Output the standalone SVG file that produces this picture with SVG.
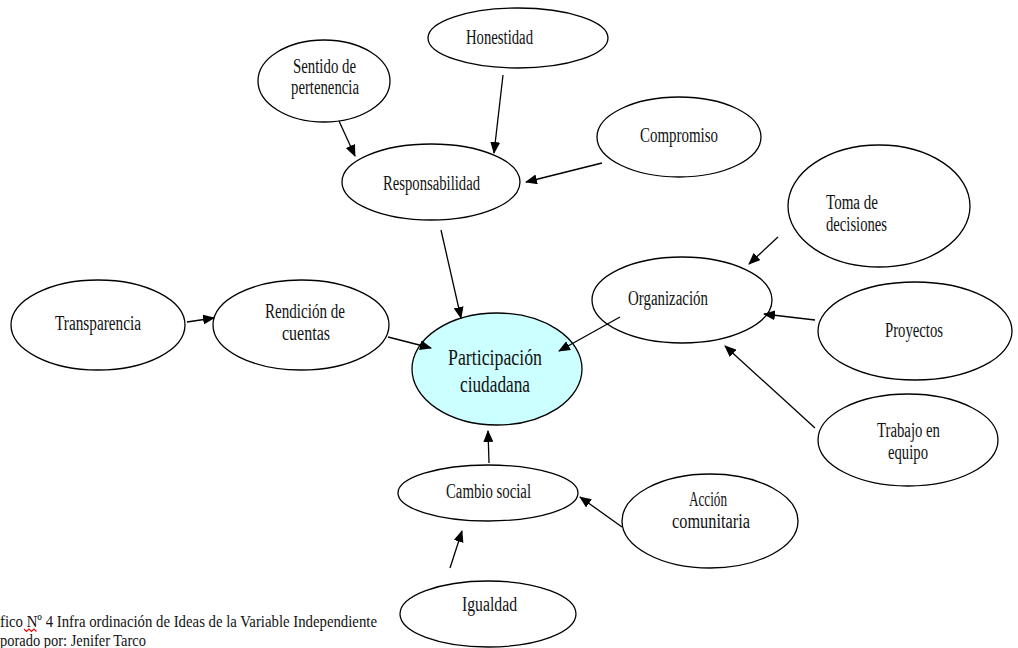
<svg xmlns="http://www.w3.org/2000/svg" width="1018" height="648" viewBox="0 0 1018 648">
<style>
.n ellipse{fill:#fff;stroke:#000;stroke-width:1.3}
#participacion ellipse{fill:#ccffff}
text{font-family:"Liberation Serif","Times New Roman",serif;font-size:20px;fill:#111}
.big{font-size:24px}
.cap{font-size:17px}
#connectors line{stroke:#000;stroke-width:1.3;marker-end:url(#ah)}
</style>
<defs>
<marker id="ah" markerWidth="12" markerHeight="10" refX="11" refY="5" orient="auto" markerUnits="userSpaceOnUse">
<path d="M0,0 L12,5 L0,10 Z" fill="#000"/>
</marker>
</defs>
<rect width="1018" height="648" fill="#fff"/>
<g id="honestidad" class="n"><ellipse cx="518" cy="38" rx="90" ry="30"/><text x="466" y="44" textLength="67" lengthAdjust="spacingAndGlyphs">Honestidad</text></g>
<g id="sentido" class="n"><ellipse cx="324" cy="81" rx="66" ry="41"/><text x="293" y="73" textLength="63" lengthAdjust="spacingAndGlyphs">Sentido de</text><text x="291" y="94" textLength="68" lengthAdjust="spacingAndGlyphs">pertenencia</text></g>
<g id="compromiso" class="n"><ellipse cx="679" cy="137" rx="82" ry="40"/><text x="640" y="142" textLength="78" lengthAdjust="spacingAndGlyphs">Compromiso</text></g>
<g id="responsabilidad" class="n"><ellipse cx="431" cy="182" rx="89" ry="38"/><text x="383" y="190" textLength="97" lengthAdjust="spacingAndGlyphs">Responsabilidad</text></g>
<g id="toma" class="n"><ellipse cx="879" cy="206" rx="91" ry="61"/><text x="826" y="209" textLength="52" lengthAdjust="spacingAndGlyphs">Toma de</text><text x="826" y="231" textLength="61" lengthAdjust="spacingAndGlyphs">decisiones</text></g>
<g id="organizacion" class="n"><ellipse cx="682" cy="300" rx="90" ry="43"/><text x="628" y="305" textLength="80" lengthAdjust="spacingAndGlyphs">Organización</text></g>
<g id="proyectos" class="n"><ellipse cx="915" cy="331" rx="97" ry="49"/><text x="885" y="337" textLength="58" lengthAdjust="spacingAndGlyphs">Proyectos</text></g>
<g id="trabajo" class="n"><ellipse cx="908" cy="440" rx="90" ry="46"/><text x="877" y="437" textLength="63" lengthAdjust="spacingAndGlyphs">Trabajo en</text><text x="888" y="459" textLength="40" lengthAdjust="spacingAndGlyphs">equipo</text></g>
<g id="transparencia" class="n"><ellipse cx="98" cy="325" rx="87" ry="45"/><text x="55" y="330" textLength="86" lengthAdjust="spacingAndGlyphs">Transparencia</text></g>
<g id="rendicion" class="n"><ellipse cx="301" cy="325" rx="88" ry="45"/><text x="265" y="318" textLength="80" lengthAdjust="spacingAndGlyphs">Rendición de</text><text x="282" y="340" textLength="48" lengthAdjust="spacingAndGlyphs">cuentas</text></g>
<g id="participacion" class="n"><ellipse cx="497" cy="369" rx="85" ry="56"/><text class="big" x="448" y="365" textLength="94" lengthAdjust="spacingAndGlyphs">Participación</text><text class="big" x="460" y="392" textLength="70" lengthAdjust="spacingAndGlyphs">ciudadana</text></g>
<g id="cambio" class="n"><ellipse cx="488" cy="493" rx="90" ry="28"/><text x="446" y="498" textLength="85" lengthAdjust="spacingAndGlyphs">Cambio social</text></g>
<g id="accion" class="n"><ellipse cx="710" cy="521" rx="88" ry="47"/><text x="689" y="506" textLength="38" lengthAdjust="spacingAndGlyphs">Acción</text><text x="672" y="528" textLength="78" lengthAdjust="spacingAndGlyphs">comunitaria</text></g>
<g id="igualdad" class="n"><ellipse cx="488" cy="614" rx="88" ry="33"/><text x="462" y="611" textLength="55" lengthAdjust="spacingAndGlyphs">Igualdad</text></g>
<g id="connectors">
<line x1="339" y1="121" x2="355" y2="156"/>
<line x1="503" y1="75" x2="494" y2="153"/>
<line x1="602" y1="163" x2="526" y2="182"/>
<line x1="441" y1="230" x2="461" y2="318"/>
<line x1="187" y1="322" x2="214" y2="318"/>
<line x1="388" y1="337" x2="431" y2="348"/>
<line x1="620" y1="317" x2="559" y2="351"/>
<line x1="778" y1="237" x2="749" y2="264"/>
<line x1="815" y1="320" x2="764" y2="314"/>
<line x1="815" y1="428" x2="725" y2="346"/>
<line x1="489" y1="463" x2="488" y2="431"/>
<line x1="622" y1="527" x2="580" y2="497"/>
<line x1="450" y1="568" x2="462" y2="531"/>
</g>
<g id="caption">
<text class="cap" x="0" y="627" textLength="377" lengthAdjust="spacingAndGlyphs">fico Nº 4 Infra ordinación de Ideas de la Variable Independiente</text>
<path d="M24,629 l2.5,2.5 l2.5,-2.5 l2.5,2.5 l2.5,-2.5 l2.5,2.5" fill="none" stroke="#e00" stroke-width="1.1"/>
<text class="cap" x="0" y="646" textLength="146" lengthAdjust="spacingAndGlyphs">porado por: Jenifer Tarco</text>
</g>
</svg>
